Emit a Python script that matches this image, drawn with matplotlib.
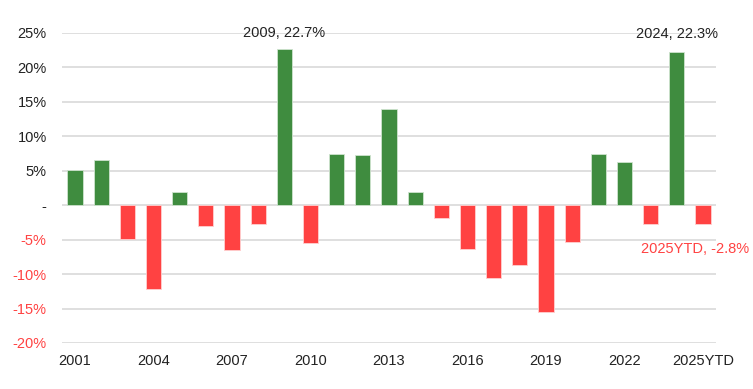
import matplotlib.pyplot as plt
import numpy as np

plt.rcParams['font.family'] = ['Liberation Sans', 'DejaVu Sans']

years = [str(y) for y in range(2001, 2025)] + ['2025YTD']
returns = [5.1, 6.6, -4.9, -12.2, 1.9, -3.0, -6.5, -2.7, 22.7, -5.5,
           7.5, 7.3, 13.9, 1.9, -1.9, -6.4, -10.6, -8.7, -15.5, -5.4,
           7.5, 6.2, -2.8, 22.3, -2.8]
yticks = [25, 20, 15, 10, 5, 0, -5, -10, -15, -20]
ytick_labels = ['25%', '20%', '15%', '10%', '5%', '-', '-5%', '-10%', '-15%', '-20%']

green = '#3f8c3f'
red = '#ff4242'

fig = plt.figure(figsize=(7.53, 3.89), dpi=100)
ax = fig.add_axes([0.0823, 0.1183, 0.8687, 0.7969])

x = np.arange(len(years))
vals = np.array(returns)
colors = [green if v >= 0 else red for v in vals]
edges = ['#cfe3cf' if v >= 0 else '#ffd0d0' for v in vals]
ax.bar(x, vals, width=0.58, color=colors, edgecolor=edges, linewidth=0.6, zorder=3)

ax.set_xlim(-0.5, len(years) - 0.5)
ax.set_ylim(-20, 25)
ax.set_yticks(yticks)
ax.set_yticklabels(ytick_labels, fontsize=10.5)
for lab, v in zip(ax.get_yticklabels(), yticks):
    lab.set_color(red if v < 0 else '#222222')

ax.set_xticks(x[::3])
ax.set_xticklabels([years[i] for i in range(0, len(years), 3)], fontsize=10.5,
                   color='#222222')

ax.grid(axis='y', color='#d9d9d9', linewidth=1.2, zorder=0)
ax.tick_params(length=0)
ax.tick_params(axis='y', pad=11)
ax.tick_params(axis='x', pad=8)
for s in ax.spines.values():
    s.set_visible(False)

# callouts
i09 = years.index('2009')
ax.text(i09, vals[i09] + 1.3, '2009, 22.7%', ha='center', va='bottom',
        fontsize=10.5, color='#222222')
i24 = years.index('2024')
ax.text(i24, vals[i24] + 1.5, '2024, 22.3%', ha='center', va='bottom',
        fontsize=10.5, color='#222222')
ax.text(24 - 0.3, vals[24] - 3.5, '2025YTD, -2.8%', ha='center', va='center',
        fontsize=10.5, color=red, clip_on=False)

fig.savefig('out.png', dpi=100)
